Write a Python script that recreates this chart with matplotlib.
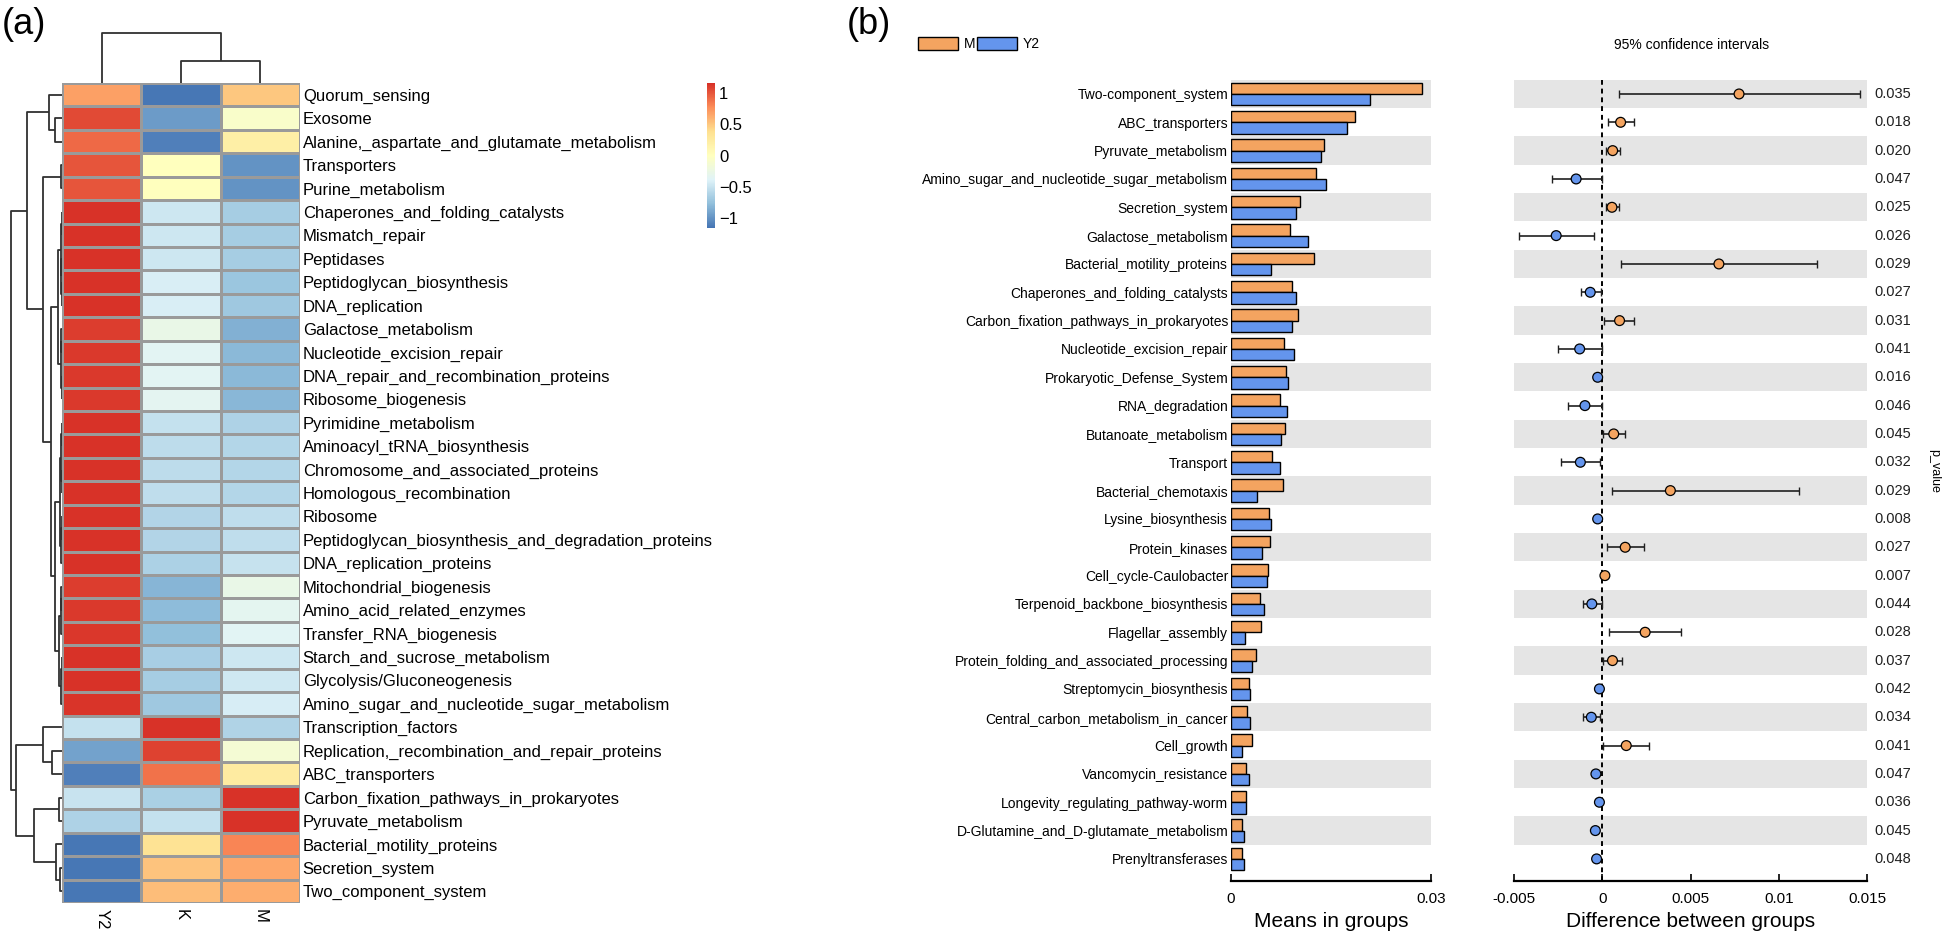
import matplotlib
matplotlib.use("Agg")
import matplotlib.pyplot as plt
from matplotlib.colors import LinearSegmentedColormap
from matplotlib.patches import Patch
from matplotlib.transforms import blended_transform_factory
import numpy as np

plt.rcParams['font.family'] = ['Liberation Sans', 'DejaVu Sans']

# ---------------- panel (a): heatmap data (row z-scores) ----------------
heat_rows = ["Quorum_sensing", "Exosome", "Alanine,_aspartate_and_glutamate_metabolism",
             "Transporters", "Purine_metabolism", "Chaperones_and_folding_catalysts",
             "Mismatch_repair", "Peptidases", "Peptidoglycan_biosynthesis", "DNA_replication",
             "Galactose_metabolism", "Nucleotide_excision_repair",
             "DNA_repair_and_recombination_proteins", "Ribosome_biogenesis",
             "Pyrimidine_metabolism", "Aminoacyl_tRNA_biosynthesis",
             "Chromosome_and_associated_proteins", "Homologous_recombination", "Ribosome",
             "Peptidoglycan_biosynthesis_and_degradation_proteins", "DNA_replication_proteins",
             "Mitochondrial_biogenesis", "Amino_acid_related_enzymes", "Transfer_RNA_biogenesis",
             "Starch_and_sucrose_metabolism", "Glycolysis/Gluconeogenesis",
             "Amino_sugar_and_nucleotide_sugar_metabolism", "Transcription_factors",
             "Replication,_recombination_and_repair_proteins", "ABC_transporters",
             "Carbon_fixation_pathways_in_prokaryotes", "Pyruvate_metabolism",
             "Bacterial_motility_proteins", "Secretion_system", "Two_component_system"]
heat_cols = ["Y2", "K", "M"]
heat_Y2 = [0.68, 1.05, 0.92, 1.00, 1.00, 1.15, 1.15, 1.15, 1.15, 1.15, 1.10, 1.12, 1.12, 1.12,
           1.15, 1.15, 1.15, 1.15, 1.15, 1.15, 1.15, 1.10, 1.12, 1.13, 1.15, 1.15, 1.14,
           -0.52, -0.92, -1.10, -0.50, -0.63, -1.15, -1.15, -1.15]
heat_K = [-1.15, -0.96, -1.10, 0.00, 0.00, -0.48, -0.48, -0.48, -0.42, -0.42, -0.27, -0.35, -0.35,
          -0.34, -0.52, -0.56, -0.56, -0.55, -0.61, -0.61, -0.64, -0.82, -0.78, -0.77, -0.66,
          -0.67, -0.70, 1.15, 1.08, 0.88, -0.65, -0.52, 0.35, 0.52, 0.55]
heat_M = [0.50, -0.08, 0.20, -1.00, -1.00, -0.67, -0.67, -0.67, -0.72, -0.70, -0.85, -0.80, -0.80,
          -0.81, -0.63, -0.60, -0.60, -0.60, -0.55, -0.55, -0.51, -0.27, -0.33, -0.36, -0.48,
          -0.47, -0.43, -0.62, -0.14, 0.25, 1.15, 1.15, 0.80, 0.65, 0.62]
cbar_ticks = [-1, -0.5, 0, 0.5, 1]
cbar_labels = ["\u22121", "\u22120.5", "0", "0.5", "1"]

# clustering trees: (left, right, height); leaves are row / column indices
row_tree = (((0, (1, 2, 7), 13),
             ((3, 4, 1.5),
              ((((5, 6, 0.5), (7, (8, 9, 0.5), 0.8), 1.2), ((10, 11, 1), (12, 13, 0.5), 1.5), 4),
               ((((14, 15, 0.5), (16, 17, 0.5), 1), ((18, 19, 0.5), 20, 1), 2),
                (((21, 22, 1), 23, 1.5), ((24, 25, 0.5), 26, 1), 3), 7), 11), 19), 35),
            ((27, (28, 29, 10), 19), ((30, 31, 3), (32, (33, 34, 2), 6), 28), 46), 51)
col_tree = (0, (1, 2, 22), 50)

# ---------------- panel (b): STAMP-like comparison ----------------
path_names = ["Two-component_system", "ABC_transporters", "Pyruvate_metabolism",
              "Amino_sugar_and_nucleotide_sugar_metabolism", "Secretion_system",
              "Galactose_metabolism", "Bacterial_motility_proteins",
              "Chaperones_and_folding_catalysts", "Carbon_fixation_pathways_in_prokaryotes",
              "Nucleotide_excision_repair", "Prokaryotic_Defense_System", "RNA_degradation",
              "Butanoate_metabolism", "Transport", "Bacterial_chemotaxis", "Lysine_biosynthesis",
              "Protein_kinases", "Cell_cycle-Caulobacter", "Terpenoid_backbone_biosynthesis",
              "Flagellar_assembly", "Protein_folding_and_associated_processing",
              "Streptomycin_biosynthesis", "Central_carbon_metabolism_in_cancer", "Cell_growth",
              "Vancomycin_resistance", "Longevity_regulating_pathway-worm",
              "D-Glutamine_and_D-glutamate_metabolism", "Prenyltransferases"]
mean_M = [0.0286, 0.0186, 0.0140, 0.0128, 0.0104, 0.0089, 0.0125, 0.0092, 0.0101, 0.0080,
          0.0082, 0.0074, 0.0081, 0.0061, 0.0078, 0.0057, 0.0059, 0.0055, 0.0043, 0.0045,
          0.0037, 0.0027, 0.0024, 0.0031, 0.0023, 0.0022, 0.0016, 0.0016]
mean_Y2 = [0.0208, 0.0174, 0.0135, 0.0142, 0.0098, 0.0116, 0.0060, 0.0098, 0.0091, 0.0094,
           0.0085, 0.0084, 0.0075, 0.0073, 0.0039, 0.0060, 0.0046, 0.0054, 0.0049, 0.0021,
           0.0031, 0.0029, 0.0029, 0.0017, 0.0027, 0.0023, 0.0019, 0.0019]
diff = [0.00775, 0.00104, 0.00059, -0.00148, 0.00055, -0.00261, 0.00661, -0.00068, 0.00098,
        -0.00128, -0.00026, -0.00098, 0.00065, -0.00124, 0.00386, -0.00026, 0.00130, 0.00015,
        -0.00059, 0.00243, 0.00058, -0.00016, -0.00062, 0.00136, -0.00036, -0.00016, -0.00039,
        -0.00032]
ci_low = [0.00093, 0.00032, 0.00019, -0.00286, 0.00021, -0.00472, 0.00108, -0.00121, 0.00011,
          -0.00250, -0.00031, -0.00193, 0.00004, -0.00233, 0.00057, -0.00031, 0.00028, 0.00010,
          -0.00109, 0.00039, 0.00003, -0.00021, -0.00110, 0.00003, -0.00041, -0.00021, -0.00044,
          -0.00037]
ci_high = [0.01462, 0.00180, 0.00102, -0.00002, 0.00097, -0.00049, 0.01218, -0.00008, 0.00178,
           -0.00004, -0.00021, 0.00000, 0.00128, -0.00015, 0.01114, -0.00021, 0.00239, 0.00020,
           -0.00004, 0.00444, 0.00113, -0.00011, -0.00010, 0.00263, -0.00031, -0.00011, -0.00034,
           -0.00027]
p_vals = ["0.035", "0.018", "0.020", "0.047", "0.025", "0.026", "0.029", "0.027", "0.031", "0.041",
          "0.016", "0.046", "0.045", "0.032", "0.029", "0.008", "0.027", "0.007", "0.044", "0.028",
          "0.037", "0.042", "0.034", "0.041", "0.047", "0.036", "0.045", "0.048"]

W, H = 1944, 932
fig = plt.figure(figsize=(W / 100, H / 100), dpi=100)


def rect(x0, y0, x1, y1):
    return [x0 / W, 1 - y1 / H, (x1 - x0) / W, (y1 - y0) / H]


def draw_tree(ax, node, rows=True):
    if isinstance(node, int):
        return node + 0.5, 0
    l, r, h = node
    pl, hl = draw_tree(ax, l, rows)
    pr, hr = draw_tree(ax, r, rows)
    hs = [hl, h, h, hr]
    ps = [pl, pl, pr, pr]
    if rows:
        ax.plot(hs, ps, color='#303030', lw=1.3, solid_capstyle='butt')
    else:
        ax.plot(ps, hs, color='#303030', lw=1.3, solid_capstyle='butt')
    return (pl + pr) / 2, h


# ---- heatmap
cmap = LinearSegmentedColormap.from_list(
    "rdylbu", ["#4575B4", "#91BFDB", "#E0F3F8", "#FFFFBF", "#FEE090", "#FC8D59", "#D73027"])
mat = np.array([heat_Y2, heat_K, heat_M]).T
ax_h = fig.add_axes(rect(62, 83, 300, 903))
mesh = ax_h.pcolormesh(mat, cmap=cmap, vmin=-1.16, vmax=1.16, edgecolors='#9A9A9A', linewidth=1)
ax_h.set_xlim(0, 3)
ax_h.set_ylim(len(heat_rows), 0)
ax_h.yaxis.tick_right()
ax_h.set_yticks(np.arange(len(heat_rows)) + 0.5)
ax_h.set_yticklabels(heat_rows, fontsize=12)
ax_h.set_xticks(np.arange(3) + 0.5)
ax_h.set_xticklabels(heat_cols, fontsize=12, rotation=270, va='top')
ax_h.tick_params(length=0, pad=2)
ax_h.tick_params(axis='x', pad=4)
for s in ax_h.spines.values():
    s.set_visible(False)

ax_rd = fig.add_axes(rect(8, 83, 62, 903))
draw_tree(ax_rd, row_tree, rows=True)
ax_rd.set_xlim(54, 0)
ax_rd.set_ylim(len(heat_rows), 0)
ax_rd.axis('off')

ax_cd = fig.add_axes(rect(62, 30, 300, 83))
draw_tree(ax_cd, col_tree, rows=False)
ax_cd.set_xlim(0, 3)
ax_cd.set_ylim(0, 53)
ax_cd.axis('off')

cax = fig.add_axes(rect(707, 83, 715, 228))
cb = fig.colorbar(mesh, cax=cax, ticks=cbar_ticks)
cb.ax.set_yticklabels(cbar_labels)
cb.outline.set_visible(False)
cb.ax.tick_params(length=0, labelsize=12, pad=3)

fig.text(2 / W, 1 - 24 / H, "(a)", fontsize=26, va='center')

# ---- bars
y = np.arange(len(path_names))
y_lim = (27.78, -0.5)
ax_b = fig.add_axes(rect(1231, 79.8, 1431, 881))
for i in range(0, len(path_names), 2):
    ax_b.axhspan(i - 0.5, i + 0.5, color='#E5E5E5', lw=0, zorder=0)
ax_b.barh(y - 0.2, mean_M, height=0.4, color='#F4A460', edgecolor='black', lw=1, zorder=2)
ax_b.barh(y + 0.2, mean_Y2, height=0.4, color='#6495ED', edgecolor='black', lw=1, zorder=2)
ax_b.set_xlim(0, 0.03)
ax_b.set_ylim(*y_lim)
ax_b.set_yticks(y)
ax_b.set_yticklabels(path_names, fontsize=10)
ax_b.tick_params(axis='y', length=0, pad=2)
ax_b.set_xticks([0, 0.03])
ax_b.set_xticklabels(["0", "0.03"])
ax_b.set_xlabel("Means in groups", fontsize=15, labelpad=4)

# ---- confidence intervals
ax_c = fig.add_axes(rect(1514, 79.8, 1867, 881))
for i in range(0, len(path_names), 2):
    ax_c.axhspan(i - 0.5, i + 0.5, color='#E5E5E5', lw=0, zorder=0)
ax_c.axvline(0, color='black', ls=(0, (2.5, 2)), lw=1.4, zorder=1)
d = np.array(diff)
lo = np.array(ci_low)
hi = np.array(ci_high)
ax_c.errorbar(d, y, xerr=[d - lo, hi - d], fmt='none', ecolor='#202020', elinewidth=1.2,
              capsize=3, capthick=1, zorder=2)
ax_c.scatter(d, y, s=50, c=np.where(d > 0, '#F4A460', '#6495ED'), edgecolors='black',
             linewidths=0.9, zorder=3)
ax_c.set_xlim(-0.005, 0.015)
ax_c.set_ylim(*y_lim)
ax_c.set_yticks([])
ax_c.set_xticks([-0.005, 0, 0.005, 0.01, 0.015])
ax_c.set_xticklabels(["-0.005", "0", "0.005", "0.01", "0.015"])
ax_c.set_xlabel("Difference between groups", fontsize=15, labelpad=4)
tr = blended_transform_factory(ax_c.transAxes, ax_c.transData)
for i, p in enumerate(p_vals):
    ax_c.text(1.02, i, p, transform=tr, va='center', ha='left', fontsize=10.5, color='#202020')

for ax in (ax_b, ax_c):
    for s in ('top', 'right', 'left'):
        ax.spines[s].set_visible(False)
    ax.spines['bottom'].set_linewidth(1.6)
    ax.tick_params(axis='x', direction='in', length=5, width=1.2, labelsize=11, pad=8)

fig.text(1692 / W, 1 - 45 / H, "95% confidence intervals", ha='center', va='center', fontsize=10)
fig.text(1934 / W, 1 - 471 / H, "p_value", rotation=270, ha='center', va='center', fontsize=9)
fig.text(847 / W, 1 - 24 / H, "(b)", fontsize=26, va='center')
fig.legend(handles=[Patch(facecolor='#F4A460', edgecolor='black', label='M'),
                    Patch(facecolor='#6495ED', edgecolor='black', label='Y2')],
           loc='center left', bbox_to_anchor=(918 / W, 1 - 44 / H), ncol=2, frameon=False,
           fontsize=10, handlelength=2.9, handleheight=1.1, handletextpad=0.4,
           columnspacing=0.1, borderpad=0, borderaxespad=0)

fig.savefig("out.png", dpi=100)
